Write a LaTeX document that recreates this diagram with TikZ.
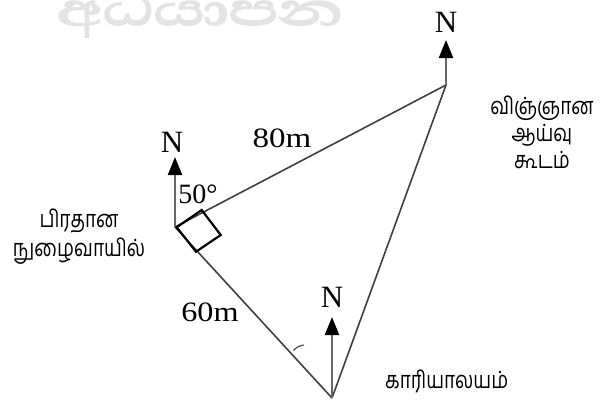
\documentclass[tikz,border=0pt]{standalone}
\usepackage{fontspec}
\usepackage{graphicx}
\setmainfont{Liberation Serif}
\newfontfamily\tamilfont[Script=Tamil]{Hind Madurai}
\newfontfamily\sinhalafont[Script=Sinhala,FakeBold=3]{Abhaya Libre}
\newcommand{\tline}[1]{\scalebox{1}[1.25]{#1}}
\usetikzlibrary{arrows.meta}
\begin{document}
\begin{tikzpicture}[x=1pt,y=-1pt,
  side/.style={draw=black!75,line width=1.6pt},
  north/.style={draw=black!60,line width=2.2pt,-{Triangle[length=18pt,width=14pt,fill=black,color=black]}},
  nlab/.style={font=\fontsize{31}{31}\selectfont,inner sep=0pt},
  dist/.style={font=\fontsize{28}{28}\selectfont,inner sep=0pt},
  tam/.style={font=\tamilfont\fontsize{19}{28}\selectfont,inner sep=0pt,align=center}]
\useasboundingbox[fill=white] (0,0) rectangle (609,405);
% watermark
\node[font=\sinhalafont\fontsize{58}{58}\selectfont,text=black!11,inner sep=0pt] (wm) at (200,15) {\scalebox{1.45}[1]{අධයාපන}};
% points
\coordinate (A) at (175,227);
\coordinate (B) at (446,85);
\coordinate (C) at (332,398);
\coordinate (An) at (175,157);
\coordinate (Bn) at (446,40);
\coordinate (Cn) at (332,317);
% triangle sides
\draw[side] (A) -- (B);
\draw[side] (A) -- (C);
\draw[side] (B) -- (C);
% north arrows
\draw[north] (A) -- (An);
\draw[north] (B) -- (Bn);
\draw[north] (C) -- (Cn);
% right-angle square
\draw[black,line width=2.2pt,line join=miter] (176.7,227.3) -- (201.7,210) -- (220.7,235) -- (196,251.7) -- cycle;
% small tick
\draw[black!70,line width=1.2pt] (293.5,350.5) to[bend left=20] (304,345);
% labels
\node[nlab] (nA) at (172,142) {N};
\node[nlab] (nB) at (446,22) {N};
\node[nlab] (nC) at (332,297) {N};
\node[dist] (d80) at (282,138) {\scalebox{1.18}[1]{80m}};
\node[dist] (d60) at (210,312) {\scalebox{1.15}[1]{60m}};
\node[dist] (ang) at (198,194) {50°};
\node[tam] (lab) at (542,132) {\tline{விஞ்ஞான}\\[-1pt]\tline{ஆய்வு}\\[-1pt]\tline{கூடம்}};
\node[tam] (ent) at (79,237) {\tline{பிரதான}\\[1pt]\tline{நுழைவாயில்}};
\node[tam,anchor=west] (off) at (385,381) {\tline{காரியாலயம்}};
\end{tikzpicture}
\end{document}
